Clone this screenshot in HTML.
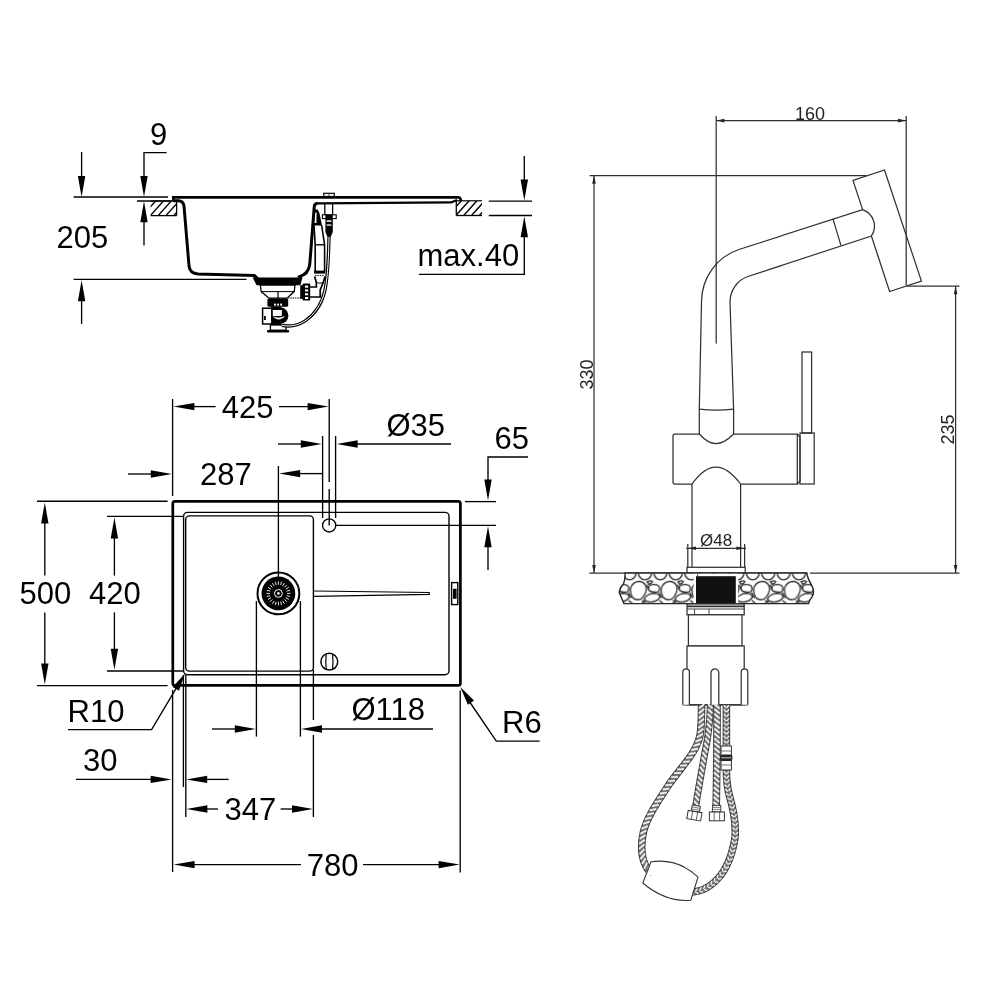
<!DOCTYPE html>
<html><head><meta charset="utf-8"><title>Sink and faucet dimensions</title>
<style>html,body{margin:0;padding:0;background:#fff}body{width:1000px;height:1000px;overflow:hidden;font-family:"Liberation Sans",sans-serif}svg{display:block}</style>
</head><body>
<svg width="1000" height="1000" viewBox="0 0 1000 1000" font-family="'Liberation Sans', sans-serif">
<rect width="1000" height="1000" fill="#fff"/>
<g opacity="0.999">
<line x1="81.6" y1="152" x2="81.6" y2="190" stroke="#000" stroke-width="1.35" />
<polygon points="81.60,197.00 77.90,176.00 85.30,176.00" fill="#000" stroke="none" stroke-width="0" />
<line x1="73.6" y1="197" x2="168" y2="197" stroke="#000" stroke-width="1.35" />
<text x="150" y="145" font-size="31" fill="#000" >9</text>
<path d="M166.6,152.6 H144 V190" stroke="#000" stroke-width="1.35" fill="none" />
<polygon points="144.00,197.00 140.30,176.00 147.70,176.00" fill="#000" stroke="none" stroke-width="0" />
<line x1="137" y1="201" x2="172" y2="201" stroke="#000" stroke-width="1.35" />
<polygon points="144.00,201.30 147.70,222.30 140.30,222.30" fill="#000" stroke="none" stroke-width="0" />
<line x1="144" y1="215" x2="144" y2="245.6" stroke="#000" stroke-width="1.35" />
<clipPath id="h150"><rect x="150.6" y="201" width="26.0" height="14.599999999999994"/></clipPath>
<g clip-path="url(#h150)">
<line x1="142.5" y1="215.6" x2="155.64" y2="201" stroke="#000" stroke-width="1.4" />
<line x1="150.3" y1="215.6" x2="163.44" y2="201" stroke="#000" stroke-width="1.4" />
<line x1="158.10000000000002" y1="215.6" x2="171.24" y2="201" stroke="#000" stroke-width="1.4" />
<line x1="165.90000000000003" y1="215.6" x2="179.04000000000002" y2="201" stroke="#000" stroke-width="1.4" />
<line x1="173.70000000000005" y1="215.6" x2="186.84000000000003" y2="201" stroke="#000" stroke-width="1.4" />
</g>
<line x1="150.6" y1="215.6" x2="176.6" y2="215.6" stroke="#000" stroke-width="1.3" />
<line x1="150.6" y1="201" x2="176.6" y2="201" stroke="#000" stroke-width="1.2" />
<line x1="176.6" y1="201" x2="176.6" y2="215.6" stroke="#000" stroke-width="1.3" />
<text x="56.5" y="248" font-size="31" fill="#000" >205</text>
<line x1="73.6" y1="279.4" x2="246.5" y2="279.4" stroke="#000" stroke-width="1.35" />
<polygon points="81.60,280.20 85.30,301.20 77.90,301.20" fill="#000" stroke="none" stroke-width="0" />
<line x1="81.6" y1="295" x2="81.6" y2="324" stroke="#000" stroke-width="1.35" />
<clipPath id="h456"><rect x="456.3" y="200.8" width="25.69999999999999" height="14.699999999999989"/></clipPath>
<g clip-path="url(#h456)">
<line x1="448.1" y1="215.5" x2="461.33000000000004" y2="200.8" stroke="#000" stroke-width="1.4" />
<line x1="455.90000000000003" y1="215.5" x2="469.13" y2="200.8" stroke="#000" stroke-width="1.4" />
<line x1="463.70000000000005" y1="215.5" x2="476.93000000000006" y2="200.8" stroke="#000" stroke-width="1.4" />
<line x1="471.50000000000006" y1="215.5" x2="484.73" y2="200.8" stroke="#000" stroke-width="1.4" />
<line x1="479.30000000000007" y1="215.5" x2="492.5300000000001" y2="200.8" stroke="#000" stroke-width="1.4" />
</g>
<line x1="456.3" y1="215.5" x2="482" y2="215.5" stroke="#000" stroke-width="1.3" />
<line x1="456.3" y1="200.8" x2="482" y2="200.8" stroke="#000" stroke-width="1.2" />
<line x1="456.3" y1="200.8" x2="456.3" y2="215.5" stroke="#000" stroke-width="1.3" />
<line x1="488.8" y1="201.1" x2="532" y2="201.1" stroke="#000" stroke-width="1.35" />
<line x1="488.8" y1="215.5" x2="532" y2="215.5" stroke="#000" stroke-width="1.35" />
<line x1="524.3" y1="156" x2="524.3" y2="190" stroke="#000" stroke-width="1.35" />
<polygon points="524.30,200.50 520.60,179.50 528.00,179.50" fill="#000" stroke="none" stroke-width="0" />
<polygon points="524.30,216.30 528.00,237.30 520.60,237.30" fill="#000" stroke="none" stroke-width="0" />
<path d="M524.3,230 V274.4 H418.9" stroke="#000" stroke-width="1.35" fill="none" />
<text x="417.5" y="266.4" font-size="31" fill="#000" >max.40</text>
<path d="M172,197.4 H458.4 Q460.6,197.6 460.8,200.8" stroke="#000" stroke-width="2.7" fill="none" />
<path d="M173.3,197 V201" stroke="#000" stroke-width="2.4" fill="none" />
<path d="M173,200.8 H178 Q183,200.6 184,206 L189,266 Q190,273.5 198,274 L254.5,275.6 L258.5,279.5" stroke="#000" stroke-width="3.0" fill="none" stroke-linejoin="round"/>
<path d="M301.5,279 Q300,277.5 299,276.6 Q308.6,274.5 309.8,264 L314.2,207 Q314.4,203.5 317.5,203.4" stroke="#000" stroke-width="3.0" fill="none" stroke-linejoin="round"/>
<path d="M316.5,203.4 L451,202.4 L457,200" stroke="#000" stroke-width="2.2" fill="none" stroke-linejoin="round"/>
<rect x="323.8" y="193.3" width="10.4" height="3.2" rx="0" stroke="#000" stroke-width="1.2" fill="#fff" />
<line x1="329" y1="194.2" x2="329" y2="196" stroke="#000" stroke-width="0.8" />
<line x1="324.8" y1="203.4" x2="324.8" y2="215" stroke="#000" stroke-width="1.3" />
<line x1="332.6" y1="203.4" x2="332.6" y2="215" stroke="#000" stroke-width="1.3" />
<rect x="322.4" y="214.8" width="13.8" height="3.8" rx="0" stroke="#000" stroke-width="1.1" fill="#fff" />
<polygon points="325.40,214.60 332.80,214.60 332.80,232.00 330.50,237.20 327.60,237.20 325.40,232.00" fill="#000" stroke="none" stroke-width="0" />
<rect x="326.6" y="220.3" width="4.8" height="1.5" rx="0" stroke="#000" stroke-width="0" fill="#fff" />
<rect x="326.6" y="224.4" width="4.8" height="1.3" rx="0" stroke="#000" stroke-width="0" fill="#fff" />
<polygon points="314.00,209.60 317.60,209.60 319.40,213.00 322.00,225.40 312.80,225.40" fill="#000" stroke="none" stroke-width="0" />
<polygon points="315.20,212.60 316.60,212.60 316.40,223.00 314.60,223.00" fill="#fff" stroke="none" stroke-width="0" />
<path d="M314,225 L315.2,244.8 V271 M321.6,225 L324.6,244.8 V271" stroke="#000" stroke-width="1.6" fill="none" />
<line x1="315.2" y1="244.8" x2="324.6" y2="244.8" stroke="#000" stroke-width="1.4" />
<rect x="314" y="270.6" width="11.2" height="3" rx="0" stroke="#000" stroke-width="0" fill="#000" />
<line x1="315" y1="275.6" x2="324.5" y2="275.6" stroke="#000" stroke-width="1" stroke-dasharray="1.4 1"/>
<path d="M314.6,276.5 L316.2,282 L316.4,287 H310 M325,276.5 L323.4,282 L320.2,290 V297 H310" stroke="#000" stroke-width="1.7" fill="none" />
<path d="M316.5,282.5 Q320,284 323.2,282.5" stroke="#000" stroke-width="1" fill="none" />
<rect x="300.2" y="285.2" width="3" height="13.6" rx="0" stroke="#000" stroke-width="0" fill="#000" />
<rect x="302.6" y="283.4" width="7.6" height="17.2" rx="1" stroke="#000" stroke-width="0" fill="#000" />
<rect x="305" y="285.6" width="3.2" height="2.1" rx="0" stroke="#000" stroke-width="0" fill="#fff" />
<rect x="305" y="289.4" width="3.2" height="2.1" rx="0" stroke="#000" stroke-width="0" fill="#fff" />
<rect x="305" y="293.2" width="3.2" height="2.1" rx="0" stroke="#000" stroke-width="0" fill="#fff" />
<rect x="305" y="297" width="3.2" height="2.1" rx="0" stroke="#000" stroke-width="0" fill="#fff" />
<line x1="288" y1="298" x2="302" y2="298" stroke="#000" stroke-width="1" stroke-dasharray="1.5 0.8"/>
<polygon points="252.60,277.60 302.40,277.60 300.40,285.20 256.60,285.20" fill="#000" stroke="none" stroke-width="0" />
<polygon points="260.30,285.00 295.00,285.00 294.20,291.60 287.00,298.20 269.00,298.20 261.20,291.60" fill="#fff" stroke="#000" stroke-width="1.3" />
<line x1="261.2" y1="291.6" x2="294.2" y2="291.6" stroke="#000" stroke-width="1" />
<line x1="278" y1="291.6" x2="278" y2="298.2" stroke="#000" stroke-width="1.2" />
<rect x="267.4" y="298.4" width="20.8" height="8.4" rx="1.5" stroke="#000" stroke-width="0" fill="#000" />
<rect x="274" y="303.6" width="1.9" height="2" rx="0" stroke="#000" stroke-width="0" fill="#fff" />
<rect x="277.1" y="303.6" width="1.9" height="2" rx="0" stroke="#000" stroke-width="0" fill="#fff" />
<rect x="280.2" y="303.6" width="1.9" height="2" rx="0" stroke="#000" stroke-width="0" fill="#fff" />
<circle cx="280" cy="315.6" r="8.4" stroke="#000" stroke-width="0" fill="#000"/>
<rect x="271" y="306.5" width="10" height="19" rx="0" stroke="#000" stroke-width="0" fill="#000" />
<rect x="262.6" y="308.2" width="9.2" height="15.8" rx="0" stroke="#000" stroke-width="1.5" fill="#fff" />
<rect x="264" y="316" width="1.8" height="4" rx="0" stroke="#000" stroke-width="0" fill="#000" />
<rect x="272.8" y="310" width="9" height="6" rx="0" stroke="#000" stroke-width="0" fill="#fff" />
<path d="M273.6,317 Q279,321.6 284.4,316.6 Q279,319 273.6,317 Z" stroke="#fff" stroke-width="0.6" fill="#fff" />
<rect x="270.4" y="325" width="15.6" height="5.2" rx="0" stroke="#000" stroke-width="1.3" fill="#fff" />
<rect x="267" y="330" width="22.2" height="2.6" rx="1" stroke="#000" stroke-width="0" fill="#000" />
<path d="M329,237 C328.6,255 328,275 325,290 C322,304 314,315 305,321 C298,325.5 290,327 282,325.3" stroke="#000" stroke-width="3.3" fill="none" />
<path d="M329,237 C328.6,255 328,275 325,290 C322,304 314,315 305,321 C298,325.5 290,327 282,325.3" stroke="#fff" stroke-width="1.0" fill="none" />
<rect x="172.8" y="501.4" width="287.6" height="184" rx="2.2" stroke="#000" stroke-width="2.7" fill="none" />
<rect x="183.6" y="512.4" width="265.4" height="162.4" rx="4" stroke="#000" stroke-width="1.4" fill="none" />
<rect x="185.7" y="515.9" width="127.7" height="155.2" rx="3.6" stroke="#000" stroke-width="1.4" fill="none" />
<circle cx="329.2" cy="525.4" r="6.6" stroke="#000" stroke-width="1.35" fill="none"/>
<circle cx="278.4" cy="593.4" r="20.9" stroke="#000" stroke-width="2" fill="#fff"/>
<circle cx="278.4" cy="593.4" r="16.9" stroke="#000" stroke-width="0" fill="#000"/>
<line x1="287.0" y1="593.4" x2="290.4" y2="593.4" stroke="#fff" stroke-width="0.9" />
<line x1="286.70696210608594" y1="595.6258437878816" x2="289.99110991546877" y2="596.5058285412302" stroke="#fff" stroke-width="0.9" />
<line x1="285.8478184725461" y1="597.6999999999999" x2="288.79230484541324" y2="599.4" stroke="#fff" stroke-width="0.9" />
<line x1="284.48111831820427" y1="599.4811183182043" x2="286.88528137423856" y2="601.8852813742385" stroke="#fff" stroke-width="0.9" />
<line x1="282.7" y1="600.8478184725461" x2="284.4" y2="603.7923048454132" stroke="#fff" stroke-width="0.9" />
<line x1="280.62584378788165" y1="601.7069621060859" x2="281.50582854123024" y2="604.9911099154688" stroke="#fff" stroke-width="0.9" />
<line x1="278.4" y1="602.0" x2="278.4" y2="605.4" stroke="#fff" stroke-width="0.9" />
<line x1="276.1741562121183" y1="601.7069621060859" x2="275.2941714587697" y2="604.9911099154688" stroke="#fff" stroke-width="0.9" />
<line x1="274.09999999999997" y1="600.8478184725461" x2="272.4" y2="603.7923048454132" stroke="#fff" stroke-width="0.9" />
<line x1="272.3188816817957" y1="599.4811183182043" x2="269.9147186257614" y2="601.8852813742385" stroke="#fff" stroke-width="0.9" />
<line x1="270.95218152745383" y1="597.6999999999999" x2="268.0076951545867" y2="599.4" stroke="#fff" stroke-width="0.9" />
<line x1="270.093037893914" y1="595.6258437878816" x2="266.8088900845312" y2="596.5058285412302" stroke="#fff" stroke-width="0.9" />
<line x1="269.79999999999995" y1="593.4" x2="266.4" y2="593.4" stroke="#fff" stroke-width="0.9" />
<line x1="270.093037893914" y1="591.1741562121183" x2="266.8088900845312" y2="590.2941714587697" stroke="#fff" stroke-width="0.9" />
<line x1="270.95218152745383" y1="589.1" x2="268.0076951545867" y2="587.4" stroke="#fff" stroke-width="0.9" />
<line x1="272.3188816817957" y1="587.3188816817957" x2="269.9147186257614" y2="584.9147186257615" stroke="#fff" stroke-width="0.9" />
<line x1="274.09999999999997" y1="585.9521815274538" x2="272.4" y2="583.0076951545867" stroke="#fff" stroke-width="0.9" />
<line x1="276.1741562121183" y1="585.093037893914" x2="275.2941714587697" y2="581.8088900845312" stroke="#fff" stroke-width="0.9" />
<line x1="278.4" y1="584.8" x2="278.4" y2="581.4" stroke="#fff" stroke-width="0.9" />
<line x1="280.62584378788165" y1="585.093037893914" x2="281.50582854123024" y2="581.8088900845312" stroke="#fff" stroke-width="0.9" />
<line x1="282.7" y1="585.9521815274538" x2="284.4" y2="583.0076951545867" stroke="#fff" stroke-width="0.9" />
<line x1="284.48111831820427" y1="587.3188816817957" x2="286.88528137423856" y2="584.9147186257615" stroke="#fff" stroke-width="0.9" />
<line x1="285.8478184725461" y1="589.1" x2="288.79230484541324" y2="587.4" stroke="#fff" stroke-width="0.9" />
<line x1="286.70696210608594" y1="591.1741562121183" x2="289.99110991546877" y2="590.2941714587697" stroke="#fff" stroke-width="0.9" />
<circle cx="278.4" cy="593.4" r="3.9" stroke="#fff" stroke-width="1" fill="#000"/>
<circle cx="278.4" cy="593.4" r="1.3" stroke="#000" stroke-width="0" fill="#fff"/>
<path d="M314,591 L429.2,592.5 V594.3 L314,596.4" stroke="#000" stroke-width="1.2" fill="none" />
<rect x="451.6" y="582.6" width="6.2" height="22" rx="0" stroke="#000" stroke-width="1.4" fill="#fff" />
<rect x="453" y="588.8" width="3.6" height="10" rx="0" stroke="#000" stroke-width="0" fill="#000" />
<circle cx="329.3" cy="661.7" r="8.4" stroke="#000" stroke-width="1.5" fill="none"/>
<path d="M326.2,654.4 Q325.4,661.7 326.2,669 M332.6,654.4 Q333.4,661.7 332.6,669" stroke="#000" stroke-width="1.2" fill="none" />
<line x1="172.6" y1="399" x2="172.6" y2="496" stroke="#000" stroke-width="1.35" />
<path d="M329.2,399 V482 M329.2,489 V525.4" stroke="#000" stroke-width="1.35" fill="none" />
<polygon points="173.40,406.60 194.40,402.90 194.40,410.30" fill="#000" stroke="none" stroke-width="0" />
<line x1="190" y1="406.6" x2="215.6" y2="406.6" stroke="#000" stroke-width="1.35" />
<text x="221.8" y="417.8" font-size="31" fill="#000" >425</text>
<line x1="279" y1="406.6" x2="312" y2="406.6" stroke="#000" stroke-width="1.35" />
<polygon points="328.60,406.60 307.60,410.30 307.60,402.90" fill="#000" stroke="none" stroke-width="0" />
<line x1="128" y1="474" x2="155" y2="474" stroke="#000" stroke-width="1.35" />
<polygon points="171.80,474.00 150.80,477.70 150.80,470.30" fill="#000" stroke="none" stroke-width="0" />
<text x="200" y="485" font-size="31" fill="#000" >287</text>
<line x1="278.4" y1="466" x2="278.4" y2="577" stroke="#000" stroke-width="1.35" />
<polygon points="279.20,473.60 300.20,469.90 300.20,477.30" fill="#000" stroke="none" stroke-width="0" />
<line x1="296" y1="473.6" x2="322.6" y2="473.6" stroke="#000" stroke-width="1.35" />
<line x1="322.6" y1="436" x2="322.6" y2="518" stroke="#000" stroke-width="1.35" />
<line x1="335.6" y1="436" x2="335.6" y2="518" stroke="#000" stroke-width="1.35" />
<line x1="278" y1="444" x2="305" y2="444" stroke="#000" stroke-width="1.35" />
<polygon points="321.80,444.00 300.80,447.70 300.80,440.30" fill="#000" stroke="none" stroke-width="0" />
<polygon points="336.60,444.00 357.60,440.30 357.60,447.70" fill="#000" stroke="none" stroke-width="0" />
<line x1="352" y1="444" x2="451" y2="444" stroke="#000" stroke-width="1.35" />
<text x="386.5" y="436" font-size="31" fill="#000" >Ø35</text>
<text x="494.5" y="449" font-size="31" fill="#000" >65</text>
<path d="M528,457 H488 V485" stroke="#000" stroke-width="1.35" fill="none" />
<polygon points="488.00,500.60 484.30,479.60 491.70,479.60" fill="#000" stroke="none" stroke-width="0" />
<line x1="465" y1="501.6" x2="496" y2="501.6" stroke="#000" stroke-width="1.35" />
<line x1="335.8" y1="525.4" x2="496" y2="525.4" stroke="#000" stroke-width="1.35" />
<polygon points="488.00,526.20 491.70,547.20 484.30,547.20" fill="#000" stroke="none" stroke-width="0" />
<line x1="488" y1="542" x2="488" y2="570" stroke="#000" stroke-width="1.35" />
<line x1="37" y1="501.2" x2="167.6" y2="501.2" stroke="#000" stroke-width="1.35" />
<line x1="37" y1="685.6" x2="167.6" y2="685.6" stroke="#000" stroke-width="1.35" />
<polygon points="44.80,502.40 48.50,523.40 41.10,523.40" fill="#000" stroke="none" stroke-width="0" />
<line x1="44.8" y1="518" x2="44.8" y2="575.6" stroke="#000" stroke-width="1.35" />
<line x1="44.8" y1="612.4" x2="44.8" y2="670" stroke="#000" stroke-width="1.35" />
<polygon points="44.80,684.60 41.10,663.60 48.50,663.60" fill="#000" stroke="none" stroke-width="0" />
<text x="19.5" y="604" font-size="31" fill="#000" >500</text>
<line x1="107" y1="516.4" x2="184" y2="516.4" stroke="#000" stroke-width="1.35" />
<line x1="107" y1="671" x2="184" y2="671" stroke="#000" stroke-width="1.35" />
<polygon points="114.40,517.40 118.10,538.40 110.70,538.40" fill="#000" stroke="none" stroke-width="0" />
<line x1="114.4" y1="533" x2="114.4" y2="575.6" stroke="#000" stroke-width="1.35" />
<line x1="114.4" y1="612.4" x2="114.4" y2="655" stroke="#000" stroke-width="1.35" />
<polygon points="114.40,669.80 110.70,648.80 118.10,648.80" fill="#000" stroke="none" stroke-width="0" />
<text x="89" y="604" font-size="31" fill="#000" >420</text>
<text x="67.5" y="722" font-size="31" fill="#000" >R10</text>
<path d="M68,729.6 H151.6 L177,686.8" stroke="#000" stroke-width="1.35" fill="none" />
<polygon points="185.00,673.40 178.98,690.76 172.62,686.98" fill="#000" stroke="none" stroke-width="0" />
<text x="83" y="771" font-size="31" fill="#000" >30</text>
<line x1="76" y1="779.4" x2="155" y2="779.4" stroke="#000" stroke-width="1.35" />
<polygon points="171.60,779.40 150.60,783.10 150.60,775.70" fill="#000" stroke="none" stroke-width="0" />
<polygon points="186.20,779.40 207.20,775.70 207.20,783.10" fill="#000" stroke="none" stroke-width="0" />
<line x1="202" y1="779.4" x2="228.6" y2="779.4" stroke="#000" stroke-width="1.35" />
<line x1="172.6" y1="690" x2="172.6" y2="872" stroke="#000" stroke-width="1.35" />
<line x1="183.4" y1="675" x2="183.4" y2="787" stroke="#000" stroke-width="1.35" />
<line x1="185.8" y1="675" x2="185.8" y2="817" stroke="#000" stroke-width="1.35" />
<line x1="256.4" y1="601" x2="256.4" y2="736.6" stroke="#000" stroke-width="1.35" />
<line x1="300.4" y1="601" x2="300.4" y2="736.6" stroke="#000" stroke-width="1.35" />
<line x1="212" y1="729" x2="240" y2="729" stroke="#000" stroke-width="1.35" />
<polygon points="255.80,729.00 234.80,732.70 234.80,725.30" fill="#000" stroke="none" stroke-width="0" />
<polygon points="301.00,729.00 322.00,725.30 322.00,732.70" fill="#000" stroke="none" stroke-width="0" />
<line x1="317" y1="729" x2="433" y2="729" stroke="#000" stroke-width="1.35" />
<text x="351.5" y="720" font-size="31" fill="#000" >Ø118</text>
<path d="M313.4,670 V720 M313.4,735 V817" stroke="#000" stroke-width="1.35" fill="none" />
<polygon points="186.40,809.00 207.40,805.30 207.40,812.70" fill="#000" stroke="none" stroke-width="0" />
<line x1="203" y1="809" x2="218" y2="809" stroke="#000" stroke-width="1.35" />
<text x="224.5" y="820" font-size="31" fill="#000" >347</text>
<line x1="280.6" y1="809" x2="297" y2="809" stroke="#000" stroke-width="1.35" />
<polygon points="313.00,809.00 292.00,812.70 292.00,805.30" fill="#000" stroke="none" stroke-width="0" />
<polygon points="173.60,864.60 194.60,860.90 194.60,868.30" fill="#000" stroke="none" stroke-width="0" />
<line x1="190" y1="864.6" x2="301" y2="864.6" stroke="#000" stroke-width="1.35" />
<text x="306.7" y="875.6" font-size="31" fill="#000" >780</text>
<line x1="363" y1="864.6" x2="443" y2="864.6" stroke="#000" stroke-width="1.35" />
<polygon points="459.60,864.60 438.60,868.30 438.60,860.90" fill="#000" stroke="none" stroke-width="0" />
<line x1="460.2" y1="690.5" x2="460.2" y2="872.4" stroke="#000" stroke-width="1.35" />
<text x="502" y="733.4" font-size="31" fill="#000" >R6</text>
<path d="M539.7,741.1 H496.3 L469,701" stroke="#000" stroke-width="1.35" fill="none" />
<polygon points="460.30,686.90 474.04,700.53 467.92,704.69" fill="#000" stroke="none" stroke-width="0" />
<line x1="716.2" y1="116" x2="716.2" y2="343.4" stroke="#303030" stroke-width="1.25" />
<line x1="906.2" y1="116" x2="906.2" y2="285.5" stroke="#303030" stroke-width="1.25" />
<line x1="716.2" y1="120.6" x2="906.2" y2="120.6" stroke="#303030" stroke-width="1.25" />
<polygon points="716.40,120.60 724.40,118.80 724.40,122.40" fill="#222" stroke="none" stroke-width="0" />
<polygon points="906.00,120.60 898.00,122.40 898.00,118.80" fill="#222" stroke="none" stroke-width="0" />
<text x="795" y="120" font-size="18" fill="#222" >160</text>
<line x1="589.6" y1="175.6" x2="866.5" y2="175.6" stroke="#303030" stroke-width="1.25" />
<line x1="594" y1="175.6" x2="594" y2="573" stroke="#303030" stroke-width="1.25" />
<polygon points="594.00,175.80 595.80,183.80 592.20,183.80" fill="#222" stroke="none" stroke-width="0" />
<polygon points="594.00,573.00 592.20,565.00 595.80,565.00" fill="#222" stroke="none" stroke-width="0" />
<line x1="589.4" y1="573" x2="687" y2="573" stroke="#303030" stroke-width="1.25" />
<line x1="745" y1="573" x2="807.6" y2="573" stroke="#303030" stroke-width="1.25" />
<line x1="810" y1="573" x2="959.5" y2="573" stroke="#303030" stroke-width="1.25" />
<text x="0" y="0" font-size="18" fill="#222" transform="translate(592.6,389.5) rotate(-90)">330</text>
<line x1="907" y1="286" x2="959.5" y2="286" stroke="#303030" stroke-width="1.25" />
<line x1="955.6" y1="286" x2="955.6" y2="573" stroke="#303030" stroke-width="1.25" />
<polygon points="955.60,286.20 957.40,294.20 953.80,294.20" fill="#222" stroke="none" stroke-width="0" />
<polygon points="955.60,573.00 953.80,565.00 957.40,565.00" fill="#222" stroke="none" stroke-width="0" />
<text x="0" y="0" font-size="18" fill="#222" transform="translate(954.4,444.4) rotate(-90)">235</text>
<path d="M862.6,209.6 L853,180.5 L884.5,170 L921.4,281 L889.6,291.5 L871.4,236" stroke="#303030" stroke-width="1.25" fill="none" />
<path d="M699.3,434 V409.2 L701.5,302 C701.5,278.2 716.4,256.9 739,249.5 L862.6,209.6 A17.5,17.5 0 0 1 871.4,236 L748,276.5 C737.1,280.1 730,290.5 730,302 L733.6,409.2 V434" stroke="#303030" stroke-width="1.25" fill="none" />
<line x1="832.9" y1="218.6" x2="841" y2="245.6" stroke="#303030" stroke-width="1.25" />
<path d="M699.3,409.2 Q716,411.2 733.6,409.2" stroke="#303030" stroke-width="1.25" fill="none" />
<path d="M699.3,434 H675 Q673,434 673,436 V482 Q673,484 675,484 H692 Q704,467 716,467 Q728,467 740.6,484 H797.3 V434 H733.6 Q724,443.6 716,443.6 Q708,443.6 699.3,434 Z" stroke="#303030" stroke-width="1.25" fill="none" />
<path d="M797.3,434 L800,437 V481 L797.3,484" stroke="#303030" stroke-width="1.25" fill="none" />
<rect x="800" y="433" width="14.2" height="51" rx="0" stroke="#303030" stroke-width="1.25" fill="none" />
<rect x="802" y="352" width="9.6" height="81" rx="0" stroke="#303030" stroke-width="1.25" fill="none" />
<line x1="692" y1="484" x2="692" y2="567.3" stroke="#303030" stroke-width="1.25" />
<line x1="740.6" y1="484" x2="740.6" y2="567.3" stroke="#303030" stroke-width="1.25" />
<line x1="687.8" y1="544" x2="687.8" y2="567" stroke="#303030" stroke-width="1.25" />
<line x1="744.6" y1="544" x2="744.6" y2="567" stroke="#303030" stroke-width="1.25" />
<line x1="686.2" y1="548.3" x2="746" y2="548.3" stroke="#303030" stroke-width="1.25" />
<polygon points="688.00,548.30 696.00,546.50 696.00,550.10" fill="#222" stroke="none" stroke-width="0" />
<polygon points="744.40,548.30 736.40,550.10 736.40,546.50" fill="#222" stroke="none" stroke-width="0" />
<text x="700" y="545.6" font-size="17" fill="#222" >Ø48</text>
<rect x="687" y="567.3" width="58.2" height="5.6" rx="0" stroke="#303030" stroke-width="1.25" fill="#fff" />
<pattern id="peb" x="629.6" y="573" width="30.8" height="30.6" patternUnits="userSpaceOnUse">
<rect width="30.8" height="30.6" fill="#fff"/>
<g fill="#fff" stroke="#2a2a2a" stroke-width="1.3" stroke-linejoin="round">
<ellipse cx="0" cy="-0.6" rx="6.5" ry="7.4"/><ellipse cx="30.8" cy="-0.6" rx="6.5" ry="7.4"/><ellipse cx="15.4" cy="-0.6" rx="6.7" ry="7.4"/>
<path d="M1.2,14.4 Q3.6,8.2 10.4,8.4 Q16.2,9.4 16.8,15.6 Q16.4,22 11.4,26 Q5.6,28 2.6,23.8 Q0,18.8 1.2,14.4 Z"/>
<path d="M19.8,12.6 Q24.6,10.4 29.2,12.8 Q31,16.6 28.8,18.8 Q23,19.8 19.6,17.6 Q18.2,14.8 19.8,12.6 Z"/>
<path d="M14.6,25.8 Q17.6,20.8 24,20.4 Q30,20.6 30.4,24 Q28.4,28.2 22,29 Q16.2,29.4 14.6,25.8 Z"/>
<path d="M18.2,8.6 Q20.6,7.2 23,8.4 Q21.8,11 18.8,11.2 Z"/>
<path d="M-1,27.4 L2.8,30.6 M1.6,25 L-1.4,19.6 M12.4,27 L16,30.6 M15.6,27.4 L12,30.6 M29.8,27.4 L33.6,30.6 M32.4,25 L29.4,19.6 M17.2,12 L19.2,16.4 M16.8,9 L18.4,8.6"/>
</g></pattern>
<path d="M625,573 H806.6 Q808,580 812,586 Q815,592 812,597 Q809.4,600 808.6,603.6 H624 Q621,597 619.2,592.5 Q619.6,588 623.4,584 Q625.4,579 625,573 Z" fill="url(#peb)" stroke="#262626" stroke-width="1.4"/>
<rect x="693.6" y="573.8" width="44.6" height="29.4" rx="0" stroke="#000" stroke-width="0" fill="#fff" />
<rect x="696" y="576.2" width="39.8" height="27.6" rx="0" stroke="#000" stroke-width="0" fill="#111" />
<line x1="697.6" y1="574.2" x2="697.6" y2="576.2" stroke="#303030" stroke-width="0.9" />
<rect x="687" y="604" width="57.2" height="10.8" rx="0" stroke="#303030" stroke-width="1.25" fill="#fff" />
<line x1="687" y1="606.4" x2="744.2" y2="606.4" stroke="#303030" stroke-width="1.6" />
<line x1="687" y1="609" x2="744.2" y2="609" stroke="#303030" stroke-width="0.9" />
<line x1="694.6" y1="609" x2="694.6" y2="614.8" stroke="#303030" stroke-width="0.9" />
<line x1="709" y1="609" x2="709" y2="614.8" stroke="#303030" stroke-width="0.9" />
<rect x="688.4" y="614.8" width="53.6" height="31.2" rx="0" stroke="#303030" stroke-width="1.25" fill="#fff" />
<rect x="687" y="646" width="57.2" height="58.8" rx="0" stroke="#303030" stroke-width="1.25" fill="#fff" />
<line x1="682.8" y1="704.8" x2="747.8" y2="704.8" stroke="#303030" stroke-width="1.25" />
<path d="M682.8,704.8 V672.0999999999999 A3.3000000000000114,3.3000000000000114 0 0 1 689.4,672.0999999999999 V704.8" stroke="#303030" stroke-width="1.25" fill="#fff" />
<path d="M711,704.8 V672.6999999999999 A3.8999999999999773,3.8999999999999773 0 0 1 718.8,672.6999999999999 V704.8" stroke="#303030" stroke-width="1.25" fill="#fff" />
<path d="M741.2,704.8 V672.0999999999999 A3.2999999999999545,3.2999999999999545 0 0 1 747.8,672.0999999999999 V704.8" stroke="#303030" stroke-width="1.25" fill="#fff" />
<path d="M701.6,705 C701.4,715 701.5,725 700.4,733 C698,752 680,768 668,786 C657,803 647,817 643.4,832 C640,848 642,862 649,871" stroke="#383838" stroke-width="7.5" fill="none" />
<path d="M701.6,705 C701.4,715 701.5,725 700.4,733 C698,752 680,768 668,786 C657,803 647,817 643.4,832 C640,848 642,862 649,871" stroke="#757575" stroke-width="5.6" fill="none" />
<path d="M704.3,704.0L698.9,708.4 M704.2,708.9L698.8,713.3 M704.1,713.8L698.7,718.2 M704.0,718.8L698.6,723.1 M703.9,723.8L698.3,727.9 M703.5,728.8L697.8,732.7 M703.0,733.9L696.9,737.2 M701.9,739.0L695.5,741.6 M700.2,743.9L693.6,745.8 M698.1,748.6L691.3,750.0 M695.6,753.0L688.7,754.0 M692.9,757.2L686.0,757.9 M690.0,761.3L683.1,761.8 M687.1,765.3L680.1,765.6 M684.0,769.2L677.1,769.4 M681.1,772.9L674.1,773.2 M678.0,776.8L671.1,777.1 M675.0,780.7L668.1,781.2 M672.2,784.6L665.3,785.3 M669.5,788.6L662.6,789.5 M666.8,792.7L659.9,793.5 M664.2,796.7L657.3,797.6 M661.5,800.8L654.6,801.8 M658.9,804.9L652.1,806.0 M656.4,809.0L649.6,810.3 M654.0,813.1L647.2,814.6 M651.7,817.4L645.0,819.2 M649.7,821.7L643.1,823.8 M647.9,826.1L641.5,828.7 M646.4,830.5L640.3,833.8 M645.5,835.1L639.6,838.8 M644.8,839.7L639.2,843.8 M644.4,844.4L639.1,848.9 M644.4,849.1L639.6,854.1 M644.9,853.7L640.5,859.1 M645.7,858.2L642.1,864.1 M647.1,862.5L644.3,868.9 M649.1,866.5L647.3,873.3" stroke="#f0f0f0" stroke-width="1.85" fill="none" />
<path d="M691,892 C703,892 713,885 721,875 C729,864 733,851 735,838 C736.5,822 733,808 729.5,796 C726.5,785 726.4,778 726.4,770 L726.4,705" stroke="#383838" stroke-width="7.5" fill="none" />
<path d="M691,892 C703,892 713,885 721,875 C729,864 733,851 735,838 C736.5,822 733,808 729.5,796 C726.5,785 726.4,778 726.4,770 L726.4,705" stroke="#757575" stroke-width="5.6" fill="none" />
<path d="M693.5,889.3L690.9,891.7 M693.7,894.6L690.9,892.3 M697.4,888.6L695.2,891.4 M698.4,893.8L695.3,892.0 M701.3,887.4L699.5,890.5 M703.0,892.4L699.7,891.1 M704.9,885.7L703.6,889.0 M707.3,890.4L703.8,889.5 M708.4,883.5L707.5,886.9 M711.3,887.9L707.8,887.4 M711.7,881.0L711.0,884.5 M715.0,885.1L711.4,885.0 M714.7,878.1L714.4,881.7 M718.4,882.0L714.8,882.1 M717.6,875.0L717.5,878.6 M721.5,878.5L718.0,879.0 M720.0,871.8L720.4,875.3 M724.4,874.9L720.9,875.7 M722.3,868.2L722.9,871.7 M726.8,870.9L723.4,872.0 M724.3,864.5L725.1,868.0 M729.0,867.0L725.6,868.3 M726.1,860.7L727.1,864.1 M730.9,862.8L727.7,864.3 M727.6,856.7L728.9,860.1 M732.6,858.6L729.4,860.3 M729.0,852.6L730.4,855.9 M734.1,854.2L731.0,856.1 M730.2,848.5L731.7,851.7 M735.3,849.9L732.3,851.9 M731.2,844.4L732.8,847.5 M736.3,845.5L733.4,847.7 M732.0,840.1L733.8,843.2 M737.2,841.1L734.4,843.3 M732.5,836.1L734.6,839.0 M737.8,836.5L735.2,839.0 M732.7,831.8L735.0,834.6 M738.0,832.0L735.6,834.6 M732.7,827.5L735.1,830.1 M738.0,827.4L735.7,830.1 M732.4,823.2L734.9,825.7 M737.7,822.8L735.5,825.7 M732.0,819.0L734.6,821.5 M737.2,818.4L735.2,821.4 M731.3,814.8L734.1,817.1 M736.6,814.0L734.7,817.0 M730.5,810.6L733.3,812.7 M735.7,809.5L733.9,812.6 M729.6,806.3L732.5,808.4 M734.7,805.1L733.0,808.3 M728.5,802.1L731.4,804.2 M733.6,800.8L732.0,804.0 M727.3,798.0L730.3,799.9 M732.4,796.5L730.9,799.8 M726.1,793.6L729.1,795.7 M731.3,792.3L729.7,795.5 M725.2,789.2L728.0,791.4 M730.4,788.1L728.6,791.2 M724.5,784.8L727.2,787.1 M729.7,784.0L727.8,787.0 M724.0,780.2L726.6,782.7 M729.3,779.7L727.2,782.6 M723.8,775.7L726.3,778.3 M729.1,775.5L726.8,778.3 M723.7,771.2L726.1,773.9 M729.0,771.2L726.7,773.9 M723.8,766.6L726.1,769.4 M729.0,766.6L726.7,769.4 M723.8,762.4L726.1,765.1 M729.0,762.4L726.7,765.1 M723.8,757.9L726.1,760.6 M729.0,757.9L726.7,760.6 M723.8,753.4L726.1,756.1 M729.0,753.4L726.7,756.1 M723.8,749.1L726.1,751.9 M729.0,749.1L726.7,751.9 M723.8,744.6L726.1,747.4 M729.0,744.6L726.7,747.4 M723.8,740.4L726.1,743.1 M729.0,740.4L726.7,743.1 M723.8,735.9L726.1,738.6 M729.0,735.9L726.7,738.6 M723.8,731.4L726.1,734.1 M729.0,731.4L726.7,734.1 M723.8,727.1L726.1,729.9 M729.0,727.1L726.7,729.9 M723.8,722.6L726.1,725.4 M729.0,722.6L726.7,725.4 M723.8,718.4L726.1,721.1 M729.0,718.4L726.7,721.1 M723.8,713.9L726.1,716.6 M729.0,713.9L726.7,716.6 M723.8,709.4L726.1,712.1 M729.0,709.4L726.7,712.1 M723.8,705.1L726.1,707.9 M729.0,705.1L726.7,707.9" stroke="#f0f0f0" stroke-width="1.35" fill="none" />
<path d="M710.4,705 C710,722 708,738 705,752 C702,770 698,790 695.4,808.5" stroke="#383838" stroke-width="7" fill="none" />
<path d="M710.4,705 C710,722 708,738 705,752 C702,770 698,790 695.4,808.5" stroke="#757575" stroke-width="5.1" fill="none" />
<path d="M712.7,708.4L708.0,704.2 M712.5,713.4L707.9,709.1 M712.2,718.3L707.6,713.9 M711.8,723.2L707.3,718.7 M711.3,728.1L706.9,723.5 M710.7,733.0L706.4,728.4 M710.0,737.9L705.8,733.2 M709.2,742.8L705.1,738.0 M708.3,747.7L704.3,742.8 M707.4,752.5L703.5,747.5 M706.5,757.3L702.5,752.4 M705.7,762.1L701.7,757.2 M704.8,767.0L700.8,762.1 M704.0,771.8L700.0,766.9 M703.1,776.6L699.1,771.8 M702.3,781.3L698.2,776.5 M701.4,786.2L697.4,781.4 M700.6,791.1L696.5,786.3 M699.8,795.8L695.7,791.0 M699.0,800.6L694.9,795.8 M698.2,805.6L694.1,800.8 M697.6,810.3L693.4,805.6" stroke="#f0f0f0" stroke-width="1.85" fill="none" />
<path d="M717,705 C717.2,740 716.8,770 716.2,808" stroke="#383838" stroke-width="7.6" fill="none" />
<path d="M717,705 C717.2,740 716.8,770 716.2,808" stroke="#757575" stroke-width="5.699999999999999" fill="none" />
<path d="M719.7,708.6L714.3,704.0 M719.7,713.5L714.3,709.0 M719.7,718.4L714.3,713.8 M719.8,723.3L714.3,718.7 M719.7,728.3L714.4,723.7 M719.7,733.1L714.3,728.5 M719.7,738.1L714.3,733.4 M719.7,743.0L714.3,738.4 M719.7,747.7L714.3,743.1 M719.6,752.7L714.3,748.1 M719.6,757.7L714.2,753.1 M719.5,762.4L714.2,757.8 M719.5,767.5L714.1,762.8 M719.4,772.3L714.1,767.6 M719.4,777.2L714.0,772.5 M719.3,782.1L714.0,777.4 M719.2,787.1L713.9,782.4 M719.1,791.9L713.8,787.2 M719.1,797.0L713.7,792.3 M719.0,801.6L713.7,797.0 M718.9,806.7L713.6,802.0" stroke="#f0f0f0" stroke-width="1.85" fill="none" />
<rect x="721" y="746" width="10.4" height="24" rx="0" stroke="#333" stroke-width="1" fill="#fff" />
<rect x="720" y="754.6" width="12.4" height="6.4" rx="2" stroke="#000" stroke-width="0" fill="#222" />
<line x1="721" y1="757.8" x2="731.4" y2="757.8" stroke="#ddd" stroke-width="0.9" />
<line x1="721" y1="751" x2="731.4" y2="751" stroke="#555" stroke-width="0.8" />
<line x1="721" y1="765" x2="731.4" y2="765" stroke="#555" stroke-width="0.8" />
<g transform="translate(-0.4,2.4) rotate(10 694.6 812)">
<rect x="691" y="803" width="8.4" height="6" rx="0" stroke="#333" stroke-width="0.9" fill="#fff" />
<line x1="691" y1="805" x2="699.4" y2="805" stroke="#444" stroke-width="0.7" />
<line x1="691" y1="807" x2="699.4" y2="807" stroke="#444" stroke-width="0.7" />
<rect x="688" y="809" width="14" height="8.4" rx="0" stroke="#333" stroke-width="1" fill="#fff" />
<line x1="692.6" y1="809" x2="692.6" y2="817.4" stroke="#444" stroke-width="0.8" />
<line x1="697.6" y1="809" x2="697.6" y2="817.4" stroke="#444" stroke-width="0.8" />
</g>
<rect x="712.4" y="805.4" width="8.4" height="6.4" rx="0" stroke="#333" stroke-width="0.9" fill="#fff" />
<line x1="712.4" y1="807.4" x2="720.8" y2="807.4" stroke="#444" stroke-width="0.7" />
<line x1="712.4" y1="809.4" x2="720.8" y2="809.4" stroke="#444" stroke-width="0.7" />
<rect x="709.4" y="812" width="15" height="8.8" rx="0" stroke="#333" stroke-width="1" fill="#fff" />
<line x1="714.2" y1="812" x2="714.2" y2="820.8" stroke="#444" stroke-width="0.8" />
<line x1="719.6" y1="812" x2="719.6" y2="820.8" stroke="#444" stroke-width="0.8" />
<path d="M651,861.8 Q678,858 698,877.2 L690.8,900.2 Q666,902.5 642.8,883 Z" stroke="#333" stroke-width="1.1" fill="#fff" />
<circle cx="650.4" cy="875.6" r="0.5" stroke="#000" stroke-width="0" fill="#777"/>
</g>
</svg>
</body></html>
